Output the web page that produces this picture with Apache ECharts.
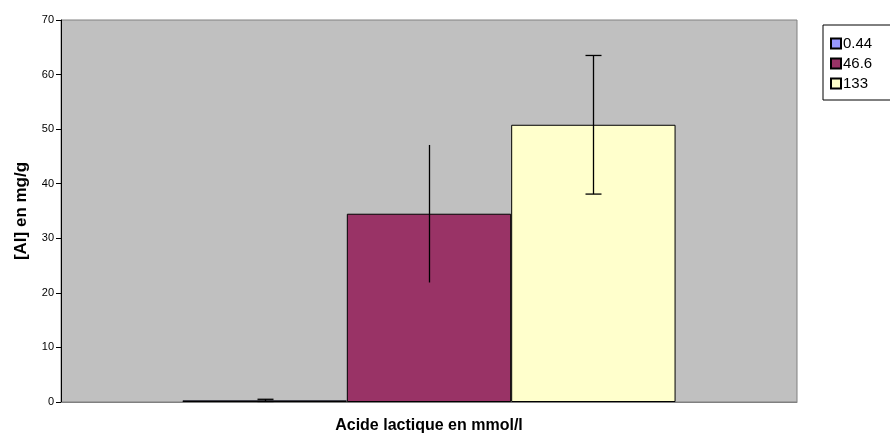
<!DOCTYPE html>
<html>
<head>
<meta charset="utf-8">
<script src="https://cdn.jsdelivr.net/npm/echarts@6/dist/echarts.min.js"></script>
<style>
  html, body { margin: 0; padding: 0; background: #fff; }
  #chart { width: 890px; height: 442px; }
</style>
</head>
<body>
<div id="chart"></div>
<script>
// Aluminium content for three lactic acid concentrations
const categories = [''];
const seriesNames = ['0.44', '46.6', '133'];
const seriesValues = [0.3, 34.5, 50.8];
const seriesErrors = [0.2, 12.6, 12.7];
const errorCaps = [true, false, true];
const seriesColors = ['#9999FF', '#993366', '#FFFFCC'];
const yTicks = { min: 0, max: 70, interval: 10 };

const gapRatio = 0.33;

const barSeries = seriesNames.map((name, i) => ({
  name: name,
  type: 'bar',
  data: [seriesValues[i]],
  barGap: '0%',
  barCategoryGap: (gapRatio * 100) + '%',
  itemStyle: { color: seriesColors[i], borderColor: '#000', borderWidth: 1 },
  emphasis: { disabled: true }
}));

// Error bars drawn around each bar's centre
const errorData = seriesNames.map((n, i) => [0, i, seriesValues[i] - seriesErrors[i], seriesValues[i] + seriesErrors[i], errorCaps[i] ? 1 : 0]);
const errorSeries = {
  type: 'custom',
  data: errorData,
  silent: true,
  z: 10,
  renderItem: function (params, api) {
    const cat = api.value(0);
    const idx = api.value(1);
    const band = api.size([1, 0])[0];
    const bw = band * (1 - gapRatio) / seriesNames.length;
    const cx = Math.round(api.coord([cat, 0])[0] + (idx - (seriesNames.length - 1) / 2) * bw) + 0.5;
    const lo = api.coord([cat, api.value(2)])[1];
    const hi = api.coord([cat, api.value(3)])[1];
    const cap = 8;
    const style = { stroke: '#000', lineWidth: 1.3 };
    const children = [
      { type: 'line', shape: { x1: cx, y1: lo, x2: cx, y2: hi }, style: style }
    ];
    if (api.value(4)) {
      children.push({ type: 'line', shape: { x1: cx - cap, y1: hi, x2: cx + cap, y2: hi }, style: style });
      children.push({ type: 'line', shape: { x1: cx - cap, y1: lo, x2: cx + cap, y2: lo }, style: style });
    }
    return { type: 'group', children: children };
  }
};

const chart = echarts.init(document.getElementById('chart'), null, { renderer: 'canvas' });
chart.setOption({
  animation: false,
  textStyle: { fontFamily: 'Liberation Sans, Arial, sans-serif' },
  grid: {
    left: 61, right: 93, top: 20, bottom: 40,
    show: true, backgroundColor: '#C0C0C0', borderColor: '#808080', borderWidth: 1
  },
  legend: {
    orient: 'vertical',
    left: 823, top: 25,
    data: seriesNames,
    icon: 'rect',
    itemWidth: 10, itemHeight: 10, itemGap: 5,
    padding: [11, 60, 9, 7],
    borderColor: '#000', borderWidth: 1, backgroundColor: '#fff',
    textStyle: { fontSize: 15, color: '#000', padding: [0, 0, 0, -3], fontFamily: 'Liberation Sans, Arial, sans-serif' },
    selectedMode: false
  },
  xAxis: {
    type: 'category',
    data: categories,
    axisTick: { show: false },
    axisLabel: { show: false },
    axisLine: { show: true, lineStyle: { color: '#808080', width: 1 } },
    name: 'Acide lactique en mmol/l',
    nameLocation: 'middle',
    nameGap: 16,
    nameTextStyle: { fontSize: 16, fontWeight: 'bold', color: '#000' }
  },
  yAxis: {
    type: 'value',
    min: yTicks.min, max: yTicks.max, interval: yTicks.interval,
    splitLine: { show: false },
    axisLine: { show: true, lineStyle: { color: '#000', width: 1 } },
    axisTick: { show: true, length: 5, lineStyle: { color: '#000' } },
    axisLabel: { fontSize: 11, color: '#000', margin: 7 },
    name: '[Al] en mg/g',
    nameLocation: 'middle',
    nameGap: 31,
    nameTextStyle: { fontSize: 17, fontWeight: 'bold', color: '#000' }
  },
  series: barSeries.concat([errorSeries])
});
</script>
</body>
</html>
